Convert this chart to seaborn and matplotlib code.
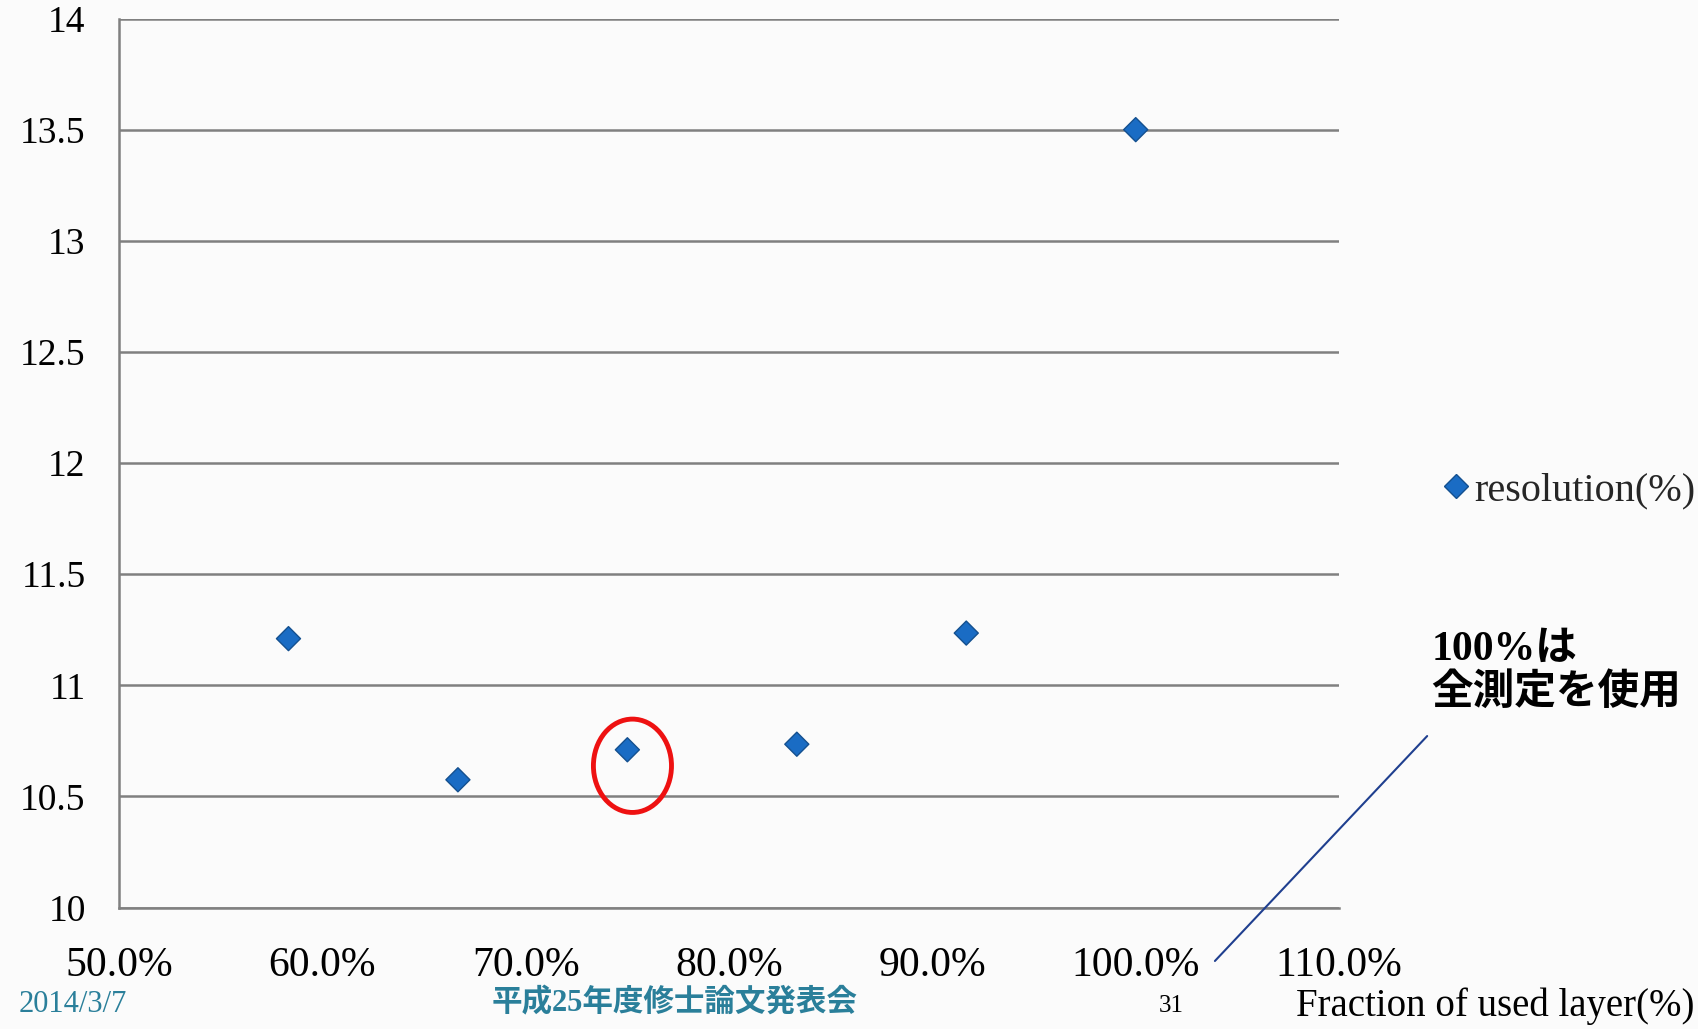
import matplotlib
matplotlib.use("Agg")
import matplotlib.pyplot as plt
import seaborn as sns
import pandas as pd
from matplotlib.patches import Ellipse
from matplotlib.lines import Line2D
from matplotlib.ticker import PercentFormatter

# data
fraction_used = [7/12, 8/12, 9/12, 10/12, 11/12, 12/12]
resolution = [11.21, 10.575, 10.71, 10.735, 11.235, 13.5]
x_ticks = [0.5, 0.6, 0.7, 0.8, 0.9, 1.0, 1.1]
y_ticks = [10, 10.5, 11, 11.5, 12, 12.5, 13, 13.5, 14]
series_name = "resolution(%)"
x_label = "Fraction of used layer(%)"
note_text = "100%は\n全測定を使用"
footer_date = "2014/3/7"
footer_title = "平成25年度修士論文発表会"
page_no = "31"

df = pd.DataFrame({"fraction": fraction_used, "res": resolution, "series": series_name})

sns.set_theme(style="white")
plt.rcParams['font.family'] = ['Liberation Serif', 'Noto Sans CJK JP', 'DejaVu Sans']

BG = "#fbfbfb"
fig = plt.figure(figsize=(16.98, 10.29), dpi=100, facecolor=BG)
ax = fig.add_axes([0.0701, 0.118, 0.7185, 0.864])
ax.set_facecolor(BG)

sns.scatterplot(data=df, x="fraction", y="res", hue="series", palette=["#1a6cc4"],
                marker="D", s=150, edgecolor="#14508f", linewidth=1.0, ax=ax, legend=True, zorder=5)

ax.set_xlim(0.5, 1.1)
ax.set_ylim(10, 14)
ax.set_xticks(x_ticks)
ax.set_yticks(y_ticks)
ax.xaxis.set_major_formatter(PercentFormatter(xmax=1.0, decimals=1))
ax.set_yticklabels([f"{v:g}" for v in y_ticks])
ax.yaxis.grid(True, color="#808080", linewidth=1.8)
ax.xaxis.grid(False)
for s in ["top", "right"]:
    ax.spines[s].set_visible(False)
for s in ["left", "bottom"]:
    ax.spines[s].set_color("#808080")
    ax.spines[s].set_linewidth(1.8)
ax.tick_params(axis="x", direction="out", length=14, width=1.5, color="#808080",
               pad=14, labelsize=30, labelcolor="black")
ax.tick_params(axis="y", direction="out", length=12, width=1.5, color="#808080",
               pad=12, labelsize=27, labelcolor="black")
ax.set_xlabel("")
ax.set_ylabel("")

handles, labels = ax.get_legend_handles_labels()
ax.get_legend().remove()
fig.legend(handles, labels, loc="center left", bbox_to_anchor=(0.847, 0.523),
           frameon=False, fontsize=29, handletextpad=0.0, handlelength=0.9,
           borderaxespad=0.0, borderpad=0.0, markerscale=1.0)

# red ellipse around highlighted point
ax.add_patch(Ellipse((0.7525, 10.638), 0.0384, 0.42, fill=False, edgecolor="#ee1111",
                     linewidth=3.5, zorder=6))

# annotation text and line
fig.text(0.843, 0.387, note_text, fontsize=30, fontweight="bold", va="top", ha="left",
         linespacing=1.15, color="black")
fig.add_artist(Line2D([0.8405, 0.7155], [0.2847, 0.0661], transform=fig.transFigure,
                      color="#1f3f8f", linewidth=1.5))

# x label at bottom right
fig.text(0.763, 0.004, x_label, fontsize=28, ha="left", va="bottom", color="black")

# footer
teal = "#2a7f9a"
fig.text(0.011, 0.01, footer_date, fontsize=22, color=teal, ha="left", va="bottom")
fig.text(0.397, 0.01, footer_title, fontsize=22, color=teal, fontweight="bold",
         ha="center", va="bottom")
fig.text(0.69, 0.012, page_no, fontsize=18, color="black", ha="center", va="bottom")

fig.savefig("out.png", dpi=100, facecolor=BG)
